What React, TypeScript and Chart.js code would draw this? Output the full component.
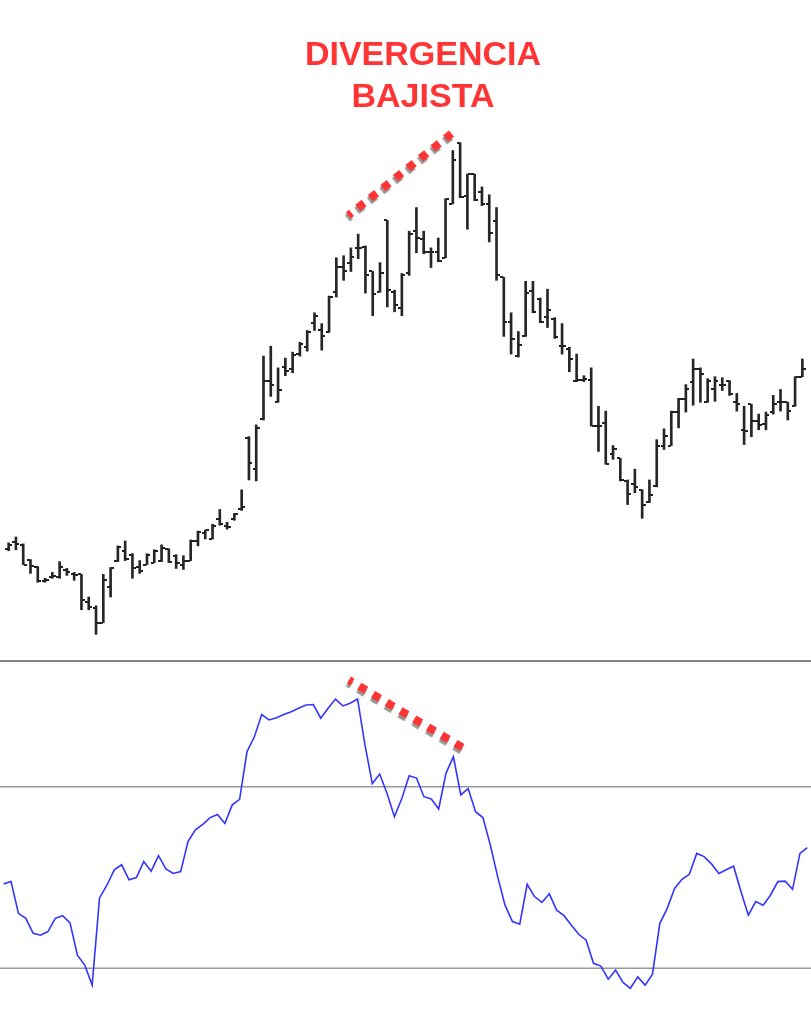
import React, { useEffect, useRef } from "react";
import { Chart, registerables } from "chart.js";

Chart.register(...registerables);

// Price bars (arbitrary price units)
const high = [114,120,113,97,90,78,84,95,88,84,82,59,50,82,89,111,116,103,96,103,107,112,108,102,101,117,126,127,133,148,135,144,168,222,234,304,314,292,302,308,318,330,348,337,365,404,406,414,428,416,390,399,442,371,388,431,455,431,414,424,464,513,521,489,489,476,468,455,384,348,329,380,380,363,372,343,337,313,306,284,292,253,248,213,200,178,189,168,178,219,230,248,261,275,301,292,281,283,282,279,266,253,255,245,247,264,270,257,283,301];
const low = [106,107,92,83,74,74,78,78,81,76,46,46,21,33,59,95,96,78,83,92,94,95,94,88,87,96,111,118,118,132,128,137,147,178,177,239,263,257,284,287,304,309,330,310,328,364,381,390,403,368,345,369,354,349,345,386,409,408,394,400,404,459,465,433,462,457,420,381,324,306,303,324,348,338,333,322,306,288,278,278,233,207,194,199,177,153,165,139,155,171,209,213,231,247,254,257,257,258,269,264,248,214,222,229,229,245,248,239,253,283];
const open = [108,115,112,97,89,75,79,79,86,82,82,54,48,33,69,96,106,102,89,92,94,96,108,101,92,96,116,124,118,138,131,138,148,221,189,240,279,257,293,291,306,313,338,331,328,369,395,399,414,415,390,369,442,369,353,388,431,423,410,410,404,459,521,467,489,471,459,441,384,339,304,324,370,362,344,342,314,311,279,280,280,233,236,204,200,177,174,168,156,172,213,213,247,260,278,291,257,271,275,279,257,229,255,238,235,247,257,257,253,283];
const close = [112,113,92,91,75,76,80,89,84,81,56,49,33,76,88,110,98,88,85,102,106,109,95,94,96,116,125,127,131,133,130,143,150,195,231,279,275,269,289,305,316,328,345,324,364,395,391,405,414,386,367,388,371,356,386,428,424,410,410,401,464,503,466,489,463,459,429,386,339,321,315,368,349,339,351,323,314,301,280,281,233,233,194,209,178,164,171,153,163,213,223,247,260,270,291,286,279,279,275,265,255,228,238,234,244,255,257,248,283,291];

// Oscillator (RSI-like) values per bar
const rsi = [48.6,49.1,42.1,41.0,37.7,37.3,38.1,41.0,41.6,40.0,32.9,30.7,26.3,45.5,48.3,51.7,52.8,49.5,50.0,53.5,51.4,54.8,51.9,50.9,51.3,57.9,60.5,61.7,63.2,63.9,61.9,66.0,67.2,77.7,81.0,85.9,84.7,85.2,85.9,86.5,87.3,88.0,88.1,85.1,87.3,89.3,87.8,88.4,89.3,79.2,70.7,72.8,68.5,63.4,67.4,72.4,71.9,67.8,67.3,65.1,73.0,76.6,68.2,69.6,64.5,63.2,57.2,50.2,43.9,40.3,39.7,48.5,45.8,44.5,46.4,42.8,41.6,39.5,37.5,36.2,31.1,30.5,27.6,29.6,26.9,25.6,28.1,26.3,28.7,39.9,43.2,47.6,49.6,50.7,55.3,54.6,53.0,50.9,51.7,52.5,46.9,41.7,44.7,43.9,46.1,49.1,49.2,47.4,55.3,56.6];
const rsiLevels = [70, 30];

// Divergence trend lines (bar index, value)
const priceDivX = [46.66, 60.82];
const priceDivY = [447, 530.2];
const rsiDivX = [46.83, 62.25];
const rsiDivY = [93.5, 78.6];

const titleLines = ["DIVERGENCIA", "BAJISTA"];

const RED = "#ff3434";

const shadowPlugin = {
  id: "dotShadow",
  beforeDatasetDraw(chart: any, args: any) {
    const ds = chart.data.datasets[args.index];
    if (ds && ds.shadow) {
      const ctx = chart.ctx;
      ctx.save();
      ctx.shadowColor = "rgba(150,150,150,1)";
      ctx.shadowOffsetX = -1;
      ctx.shadowOffsetY = 3;
      ctx.shadowBlur = 1;
    }
  },
  afterDatasetDraw(chart: any, args: any) {
    const ds = chart.data.datasets[args.index];
    if (ds && ds.shadow) chart.ctx.restore();
  },
};

function makeTick(side: "left" | "right") {
  const c = document.createElement("canvas");
  c.width = 7;
  c.height = 2;
  const g = c.getContext("2d")!;
  g.fillStyle = "#222";
  if (side === "left") g.fillRect(0, 0, 3, 2);
  else g.fillRect(4, 0, 3, 2);
  return c;
}

const xMin = -0.5;
const xMax = high.length - 0.5;

export default function App() {
  const topRef = useRef<HTMLCanvasElement>(null);
  const botRef = useRef<HTMLCanvasElement>(null);

  useEffect(() => {
    document.body.style.margin = "0";
    const openTick = makeTick("left");
    const closeTick = makeTick("right");

    const top = new Chart(topRef.current!, {
      type: "bar",
      data: {
        datasets: [
          {
            type: "line",
            data: priceDivX.map((x, i) => ({ x, y: priceDivY[i] })),
            borderColor: RED,
            borderWidth: 8,
            borderDash: [8, 8],
            borderDashOffset: 4,
            borderCapStyle: "butt",
            pointRadius: 0,
            shadow: true,
            order: 0,
          } as any,
          {
            type: "line",
            data: open.map((y, i) => ({ x: i, y })),
            showLine: false,
            pointStyle: openTick,
            pointRadius: 3,
            order: 1,
          } as any,
          {
            type: "line",
            data: close.map((y, i) => ({ x: i, y })),
            showLine: false,
            pointStyle: closeTick,
            pointRadius: 3,
            order: 1,
          } as any,
          {
            type: "bar",
            data: high.map((h, i) => ({ x: i, y: [low[i], h] })),
            backgroundColor: "#262626",
            borderWidth: 0,
            barThickness: 2,
            order: 2,
          } as any,
        ],
      },
      options: {
        responsive: false,
        animation: false,
        events: [],
        layout: { padding: 0 },
        plugins: { legend: { display: false }, tooltip: { enabled: false } },
        scales: {
          x: { type: "linear", min: xMin, max: xMax, display: false, offset: false },
          y: { min: 0, max: 661, display: false },
        },
      } as any,
      plugins: [shadowPlugin],
    });

    const bot = new Chart(botRef.current!, {
      type: "line",
      data: {
        datasets: [
          {
            data: rsiDivX.map((x, i) => ({ x, y: rsiDivY[i] })),
            borderColor: RED,
            borderWidth: 8,
            borderDash: [8, 8],
            borderDashOffset: 4,
            borderCapStyle: "butt",
            pointRadius: 0,
            shadow: true,
            order: 0,
          } as any,
          {
            data: rsi.map((y, i) => ({ x: i, y })),
            borderColor: "#3434ff",
            borderWidth: 1.6,
            pointRadius: 0,
            tension: 0,
            order: 1,
          },
          ...rsiLevels.map((lv) => ({
            data: [
              { x: xMin, y: lv },
              { x: xMax, y: lv },
            ],
            borderColor: "#999999",
            borderWidth: 1.6,
            pointRadius: 0,
            order: 2,
          })),
        ],
      },
      options: {
        responsive: false,
        animation: false,
        events: [],
        layout: { padding: 0 },
        plugins: { legend: { display: false }, tooltip: { enabled: false } },
        scales: {
          x: { type: "linear", min: xMin, max: xMax, display: false, offset: false },
          y: { min: 15.75, max: 97.47, display: false },
        },
      } as any,
      plugins: [shadowPlugin],
    });

    return () => {
      top.destroy();
      bot.destroy();
    };
  }, []);

  return (
    <div style={{ position: "relative", width: 811, height: 1033, background: "#fff", overflow: "hidden" }}>
      <canvas ref={topRef} width={811} height={660} style={{ display: "block", position: "absolute", left: 0, top: 0 }} />
      <div style={{ position: "absolute", left: 0, top: 660, width: 811, height: 2, background: "#858585" }} />
      <canvas ref={botRef} width={811} height={371} style={{ display: "block", position: "absolute", left: 0, top: 662 }} />
      <div
        style={{
          position: "absolute",
          left: 223,
          width: 400,
          top: 32,
          textAlign: "center",
          color: RED,
          fontFamily: "'Liberation Sans', Arial, sans-serif",
          fontWeight: "bold",
          fontSize: 34,
          lineHeight: "42px",
        }}
      >
        {titleLines.map((t) => (
          <div key={t}>{t}</div>
        ))}
      </div>
    </div>
  );
}
